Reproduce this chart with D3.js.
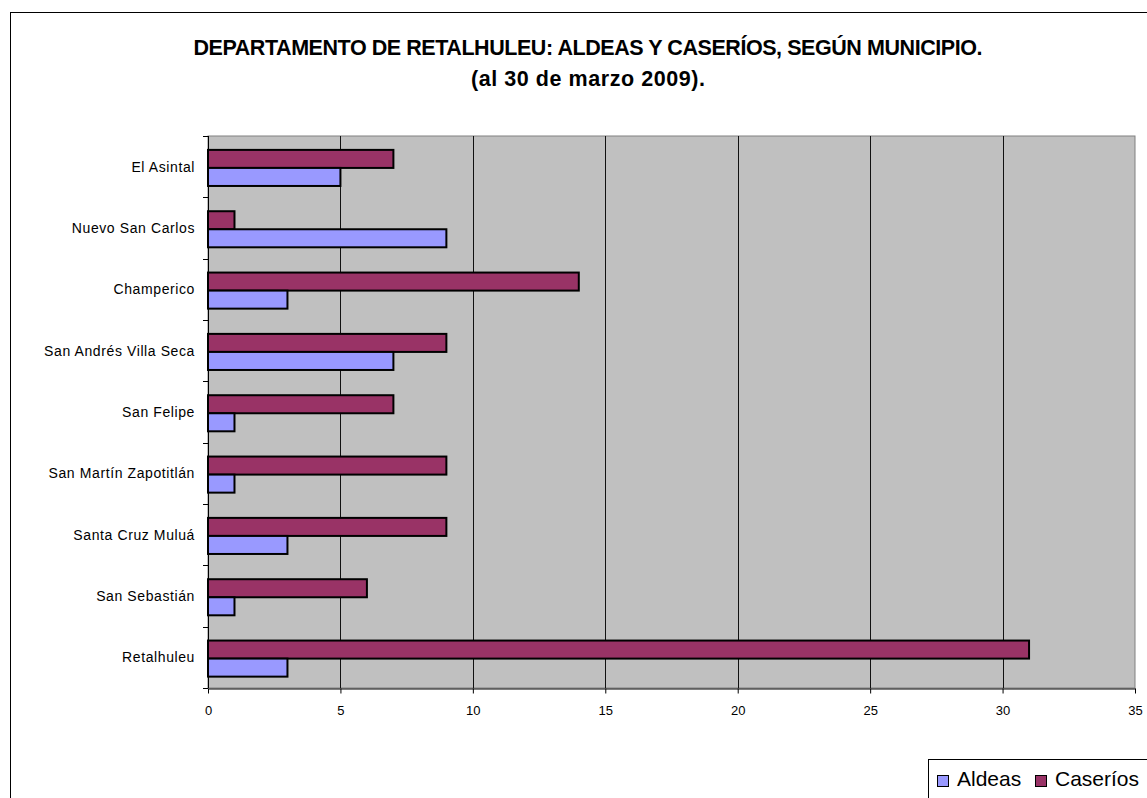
<!DOCTYPE html>
<html>
<head>
<meta charset="utf-8">
<script src="https://cdn.jsdelivr.net/npm/d3@7"></script>
<style>
  html, body { margin: 0; padding: 0; background: #fff; overflow: hidden; }
  svg { display: block; font-family: "Liberation Sans", Arial, sans-serif; }
</style>
</head>
<body>
<svg id="chart" width="1147" height="798"></svg>
<script>
const municipios = ["El Asintal", "Nuevo San Carlos", "Champerico", "San Andrés Villa Seca",
  "San Felipe", "San Martín Zapotitlán", "Santa Cruz Muluá", "San Sebastián", "Retalhuleu"];
const aldeas   = [5, 9, 3, 7, 1, 1, 3, 1, 3];
const caserios = [7, 1, 14, 9, 7, 9, 9, 6, 31];
const series = ["Caseríos", "Aldeas"];
const xTicks = [0, 5, 10, 15, 20, 25, 30, 35];
const titleLines = ["DEPARTAMENTO DE RETALHULEU: ALDEAS Y CASERÍOS, SEGÚN MUNICIPIO.", "(al 30 de marzo 2009)."];

const colors = { "Aldeas": "#9999ff", "Caseríos": "#993366" };

const svg = d3.select("#chart");

// outer chart border (runs off the right and bottom edges)
svg.append("rect")
  .attr("x", 10.5).attr("y", 12.5)
  .attr("width", 1200).attr("height", 900)
  .attr("fill", "#fff").attr("stroke", "#000").attr("stroke-width", 1);

const plot = { left: 208, right: 1135, top: 136, bottom: 688 };

const x = d3.scaleLinear().domain([0, 35]).range([plot.left, plot.right]);
const y = d3.scaleBand().domain(municipios).range([plot.top, plot.bottom]).padding(0);
const inner = d3.scaleBand().domain(series).range([0, y.bandwidth()])
  .paddingInner(0).paddingOuter(0.7).align(0.55);

// title
const titleSizes = [789, 234];
svg.selectAll("text.title")
  .data(titleLines)
  .enter().append("text")
  .attr("class", "title")
  .attr("x", 588)
  .attr("y", (d, i) => i === 0 ? 55 : 86)
  .attr("text-anchor", "middle")
  .attr("font-size", 21.5)
  .attr("font-weight", "bold")
  .attr("textLength", (d, i) => titleSizes[i])
  .attr("lengthAdjust", "spacing")
  .text(d => d);

// plot background
svg.append("rect")
  .attr("x", plot.left).attr("y", plot.top)
  .attr("width", plot.right - plot.left).attr("height", plot.bottom - plot.top)
  .attr("fill", "#c0c0c0").attr("stroke", "#808080").attr("stroke-width", 1);

// vertical gridlines
svg.append("g")
  .selectAll("line")
  .data(xTicks.filter(t => t > 0 && t < 35))
  .enter().append("line")
  .attr("x1", d => Math.round(x(d)) + 0.5).attr("x2", d => Math.round(x(d)) + 0.5)
  .attr("y1", plot.top).attr("y2", plot.bottom)
  .attr("stroke", "#111").attr("stroke-width", 1);

// bars
const rows = municipios.map((m, i) => ({ name: m, "Aldeas": aldeas[i], "Caseríos": caserios[i] }));
const barData = [];
rows.forEach(r => series.forEach(s => barData.push({ name: r.name, key: s, value: r[s] })));

svg.append("g")
  .selectAll("rect")
  .data(barData)
  .enter().append("rect")
  .attr("x", x(0))
  .attr("y", d => y(d.name) + inner(d.key))
  .attr("width", d => x(d.value) - x(0))
  .attr("height", inner.bandwidth())
  .attr("fill", d => colors[d.key])
  .attr("stroke", "#000")
  .attr("stroke-width", 2);

// y axis
const yAxisG = svg.append("g");
yAxisG.append("line")
  .attr("x1", plot.left + 0.5).attr("x2", plot.left + 0.5)
  .attr("y1", plot.top).attr("y2", plot.bottom)
  .attr("stroke", "#000");
const bounds = municipios.map(m => y(m)).concat([plot.bottom]);
yAxisG.selectAll("line.tick")
  .data(bounds)
  .enter().append("line")
  .attr("class", "tick")
  .attr("x1", plot.left - 5).attr("x2", plot.left)
  .attr("y1", d => Math.round(d) + 0.5).attr("y2", d => Math.round(d) + 0.5)
  .attr("stroke", "#000");
yAxisG.selectAll("text")
  .data(municipios)
  .enter().append("text")
  .attr("x", 195)
  .attr("y", d => y(d) + y.bandwidth() / 2)
  .attr("dy", "0.35em")
  .attr("text-anchor", "end")
  .attr("font-size", 14)
  .attr("letter-spacing", 0.6)
  .text(d => d);

// x axis
const xAxis = d3.axisBottom(x).tickValues(xTicks).tickSize(5).tickSizeOuter(0).tickPadding(12);
const xAxisG = svg.append("g")
  .attr("transform", "translate(0," + (plot.bottom + 0.5) + ")")
  .call(xAxis);
xAxisG.select(".domain").attr("stroke", "#000");
xAxisG.selectAll(".tick line").attr("stroke", "#000");
xAxisG.selectAll(".tick text")
  .attr("font-family", "Liberation Sans, Arial, sans-serif")
  .attr("font-size", 13)
  .attr("fill", "#000");

// legend
const legend = svg.append("g");
legend.append("rect")
  .attr("x", 928.5).attr("y", 759.5)
  .attr("width", 300).attr("height", 100)
  .attr("fill", "#fff").attr("stroke", "#000");
const legendItems = [
  { key: "Aldeas", sx: 937, tx: 957 },
  { key: "Caseríos", sx: 1035, tx: 1055 }
];
legend.selectAll("rect.sw")
  .data(legendItems)
  .enter().append("rect")
  .attr("class", "sw")
  .attr("x", d => d.sx + 0.5).attr("y", 775.5)
  .attr("width", 11).attr("height", 11)
  .attr("fill", d => colors[d.key])
  .attr("stroke", "#000");
legend.selectAll("text")
  .data(legendItems)
  .enter().append("text")
  .attr("x", d => d.tx)
  .attr("y", 786)
  .attr("font-size", 21)
  .text(d => d.key);
</script>
</body>
</html>
